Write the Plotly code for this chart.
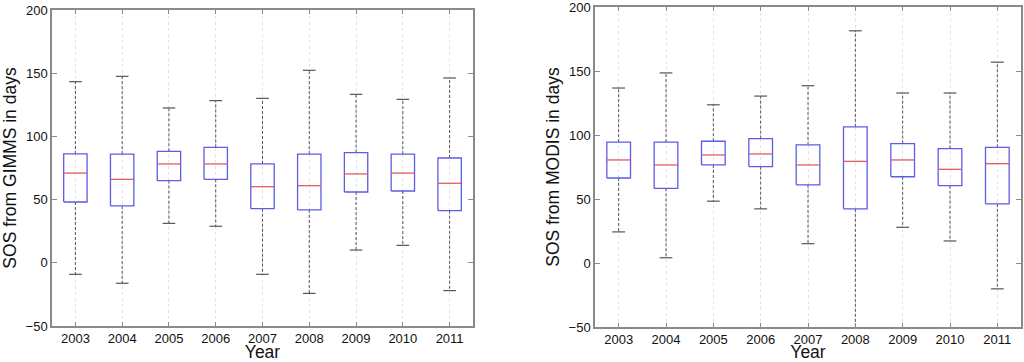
import plotly.graph_objects as go

years = ["2003", "2004", "2005", "2006", "2007", "2008", "2009", "2010", "2011"]

gimms_upper = [143.3, 147.5, 122.5, 128.3, 130.1, 152.3, 133.3, 129.3, 146.2]
gimms_q3 = [86.1, 86.0, 88.2, 91.3, 78.2, 86.0, 87.1, 86.0, 82.9]
gimms_median = [71.0, 66.0, 78.2, 78.2, 60.2, 61.0, 70.3, 71.0, 62.9]
gimms_q1 = [48.1, 45.0, 65.0, 66.0, 42.8, 41.8, 56.0, 56.8, 41.2]
gimms_lower = [-9.1, -16.2, 31.2, 28.9, -9.1, -24.2, 10.1, 13.8, -22.0]

modis_upper = [136.7, 148.5, 123.6, 130.4, 138.5, 181.4, 132.8, 132.8, 156.9]
modis_q3 = [94.4, 94.4, 95.1, 97.2, 92.3, 106.4, 93.3, 89.4, 90.4]
modis_median = [80.5, 76.6, 84.4, 85.2, 76.6, 79.4, 80.5, 73.2, 77.6]
modis_q1 = [66.4, 58.3, 76.6, 75.3, 61.1, 42.3, 67.4, 60.4, 46.2]
modis_lower = [24.3, 4.1, 48.3, 42.3, 15.1, -60.0, 27.9, 17.2, -20.2]

BOX_W = 0.5
CAP_W = 0.27
BLUE = "#5c5ce6"
RED = "#e05c5c"
WHISK = "#555555"
FRAME = "#8a8a8a"

W = 1024
H = 362


def xd(a, b):
    return [a / W, b / W]


def yd(top, bottom):
    return [max(0.0, 1 - bottom / H), min(1.0, 1 - top / H)]


fig = go.Figure()


def add_boxes(upper, q3, med, q1, lower, xa, ya):
    xs_pos = list(range(1, len(years) + 1))
    wx, wy, cx, cy, bx, by, mx, my = [], [], [], [], [], [], [], []
    for i, x in enumerate(xs_pos):
        wx += [x, x, None, x, x, None]
        wy += [q3[i], upper[i], None, q1[i], lower[i], None]
        cx += [x - CAP_W / 2, x + CAP_W / 2, None, x - CAP_W / 2, x + CAP_W / 2, None]
        cy += [upper[i], upper[i], None, lower[i], lower[i], None]
        bx += [x - BOX_W / 2, x + BOX_W / 2, x + BOX_W / 2, x - BOX_W / 2, x - BOX_W / 2, None]
        by += [q1[i], q1[i], q3[i], q3[i], q1[i], None]
        mx += [x - BOX_W / 2, x + BOX_W / 2, None]
        my += [med[i], med[i], None]
    fig.add_trace(go.Scatter(x=wx, y=wy, mode="lines", xaxis=xa, yaxis=ya,
                             line=dict(color=WHISK, width=1, dash="3px,2px"),
                             showlegend=False, hoverinfo="skip"))
    fig.add_trace(go.Scatter(x=cx, y=cy, mode="lines", xaxis=xa, yaxis=ya,
                             line=dict(color=WHISK, width=1.2),
                             showlegend=False, hoverinfo="skip"))
    fig.add_trace(go.Scatter(x=bx, y=by, mode="lines", xaxis=xa, yaxis=ya,
                             line=dict(color=BLUE, width=1.3),
                             showlegend=False, hoverinfo="skip"))
    fig.add_trace(go.Scatter(x=mx, y=my, mode="lines", xaxis=xa, yaxis=ya,
                             line=dict(color=RED, width=1.3),
                             showlegend=False, hoverinfo="skip"))


add_boxes(gimms_upper, gimms_q3, gimms_median, gimms_q1, gimms_lower, "x", "y")
add_boxes(modis_upper, modis_q3, modis_median, modis_q1, modis_lower, "x2", "y2")

font = dict(family="Liberation Sans, Arial, sans-serif", size=13, color="#111111")

xcommon = dict(range=[0.5, 9.5], tickmode="array", tickvals=list(range(1, 10)), ticktext=years,
               showgrid=True, gridcolor="#e2e2e2", griddash="dot", gridwidth=1,
               ticks="inside", ticklen=4, tickcolor=FRAME, mirror="ticks",
               showline=True, linecolor=FRAME, linewidth=1.5, zeroline=False,
               automargin=False, ticklabeloverflow="allow",
               tickfont=dict(size=13), title=dict(text="Year", font=dict(size=17.5), standoff=2))
ycommon = dict(range=[-50, 200], tickmode="array", tickvals=[-50, 0, 50, 100, 150, 200],
               showgrid=False, ticks="inside", ticklen=5, tickcolor=FRAME, mirror="ticks",
               showline=True, linecolor=FRAME, linewidth=1.5, zeroline=False,
               automargin=False, ticklabeloverflow="allow", tickfont=dict(size=13))

fig.update_layout(
    width=W, height=H,
    margin=dict(l=0, r=0, t=0, b=0),
    paper_bgcolor="white", plot_bgcolor="white",
    font=font,
    xaxis=dict(domain=xd(52, 473), anchor="y", **xcommon),
    yaxis=dict(domain=yd(10, 326), anchor="x",
               title=dict(text="SOS from GIMMS in days", font=dict(size=17.5), standoff=4), **ycommon),
    xaxis2=dict(domain=xd(595, 1021), anchor="y2", **xcommon),
    yaxis2=dict(domain=yd(7, 327), anchor="x2",
                title=dict(text="SOS from MODIS in days", font=dict(size=17.5), standoff=4), **ycommon),
)

fig.write_html("out.html", config={"displayModeBar": False},
               post_script="document.body.style.margin='0';document.body.style.padding='0';")
